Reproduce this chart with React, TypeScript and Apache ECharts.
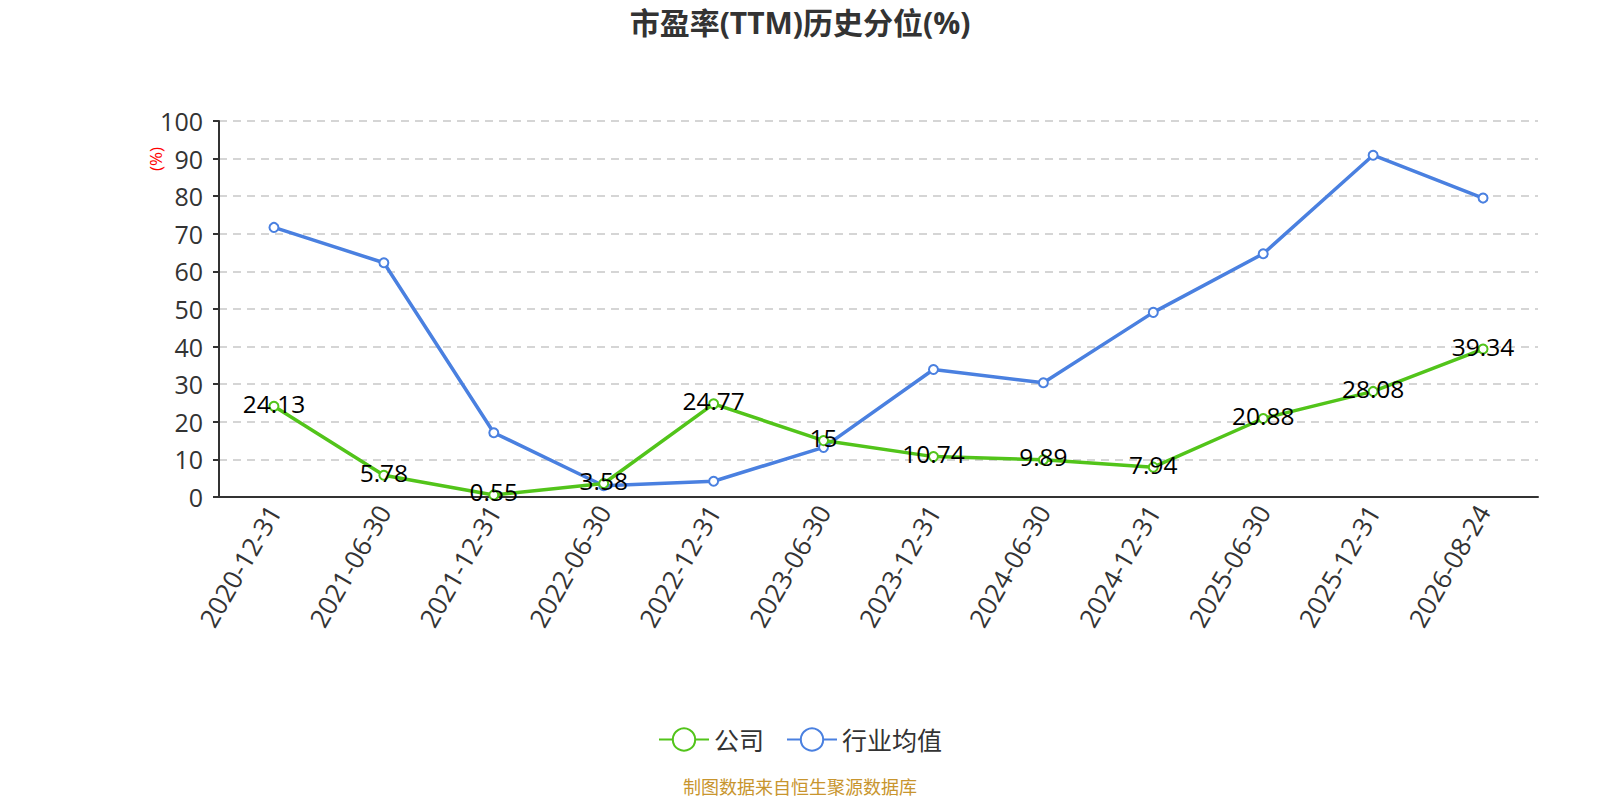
import React, { useEffect, useRef } from "react";
import * as echarts from "echarts";

const categories = [
  "2020-12-31", "2021-06-30", "2021-12-31", "2022-06-30", "2022-12-31", "2023-06-30",
  "2023-12-31", "2024-06-30", "2024-12-31", "2025-06-30", "2025-12-31", "2026-08-24",
];
const companyValues = [24.13, 5.78, 0.55, 3.58, 24.77, 15, 10.74, 9.89, 7.94, 20.88, 28.08, 39.34];
const industryValues = [71.7, 62.3, 17.1, 3.0, 4.2, 13.2, 33.9, 30.4, 49.1, 64.7, 90.9, 79.5];
const seriesNames = ["公司", "行业均值"];
const titleText = "市盈率(TTM)历史分位(%)";
const footerText = "制图数据来自恒生聚源数据库";

const FONT = "'Open Sans', 'Noto Sans CJK SC', sans-serif";

export default function App() {
  const ref = useRef<HTMLDivElement>(null);
  useEffect(() => {
    if (!ref.current) return;
    const chart = echarts.init(ref.current, undefined, { renderer: "svg" });
    chart.setOption({
      animation: false,
      backgroundColor: "#ffffff",
      textStyle: { fontFamily: FONT },
      title: {
        text: titleText,
        left: "center",
        top: 2,
        textStyle: { fontSize: 30, fontWeight: "bold", color: "#333", fontFamily: FONT },
      },
      legend: {
        data: seriesNames,
        left: "center",
        top: 722,
        itemWidth: 50,
        itemHeight: 28,
        itemGap: 22,
        textStyle: { fontSize: 25, color: "#333", fontFamily: FONT },
      },
      grid: { left: 219, right: 62, top: 121, bottom: 303 },
      xAxis: {
        type: "category",
        data: categories,
        boundaryGap: true,
        axisLine: { lineStyle: { color: "#333", width: 2 } },
        axisTick: { lineStyle: { color: "#333", width: 2 }, length: 6 },
        axisLabel: { rotate: 60, fontSize: 26, color: "#333", margin: 10, fontFamily: FONT },
      },
      yAxis: {
        type: "value",
        min: 0,
        max: 100,
        interval: 10,
        axisLine: { show: true, lineStyle: { color: "#333", width: 2 } },
        axisTick: { show: true, lineStyle: { color: "#333", width: 2 }, length: 6 },
        axisLabel: { fontSize: 25, color: "#333", margin: 16, fontFamily: FONT },
        splitLine: { lineStyle: { type: [8, 6], color: "#c8c8c8", width: 1.5 } },
      },
      graphic: [
        {
          type: "text",
          x: 147,
          y: 171,
          rotation: Math.PI / 2,
          style: { text: "(%)", fill: "#ff0000", fontSize: 17, fontFamily: FONT },
        },
        {
          type: "text",
          left: "center",
          top: 778,
          style: { text: footerText, fill: "#c8952e", fontSize: 18, fontFamily: FONT },
        },
      ],
      series: [
        {
          name: seriesNames[0],
          type: "line",
          data: companyValues,
          symbol: "emptyCircle",
          symbolSize: 9,
          lineStyle: { width: 3.5, color: "#52c41a" },
          itemStyle: { color: "#52c41a", borderWidth: 2 },
          label: {
            show: true,
            position: "inside",
            offset: [0, -3],
            color: "#000",
            fontSize: 24.5,
            fontFamily: FONT,
          },
          z: 3,
        },
        {
          name: seriesNames[1],
          type: "line",
          data: industryValues,
          symbol: "emptyCircle",
          symbolSize: 9,
          lineStyle: { width: 3.5, color: "#4a80e0" },
          itemStyle: { color: "#4a80e0", borderWidth: 2 },
          z: 2,
        },
      ],
    });
    return () => chart.dispose();
  }, []);
  return (
    <div
      ref={ref}
      style={{ position: "fixed", left: 0, top: 0, width: 1600, height: 800 }}
    />
  );
}
